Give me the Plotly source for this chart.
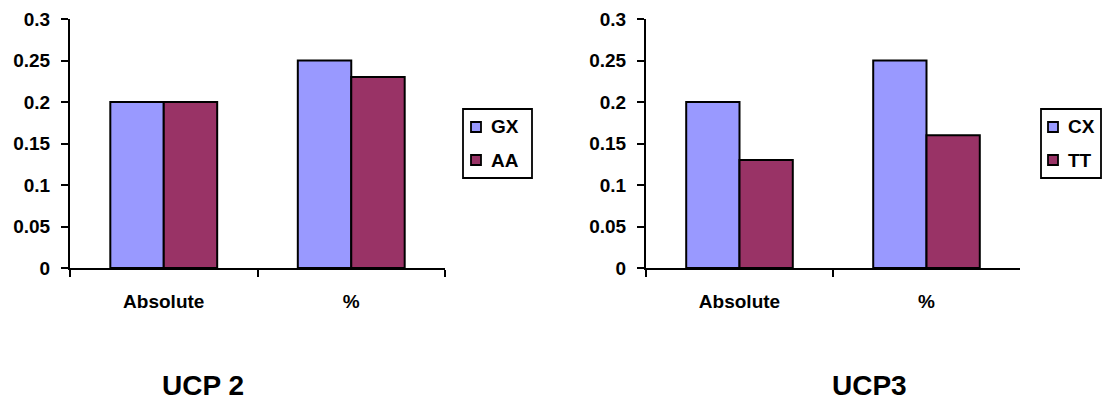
import plotly.graph_objects as go

categories = ["Absolute", "%"]
gx_values = [0.2, 0.25]
aa_values = [0.2, 0.23]
cx_values = [0.2, 0.25]
tt_values = [0.13, 0.16]
left_names = ["GX", "AA"]
right_names = ["CX", "TT"]
y_ticks = [0, 0.05, 0.1, 0.15, 0.2, 0.25, 0.3]
y_tick_labels = ["0", "0.05", "0.1", "0.15", "0.2", "0.25", "0.3"]
titles = ["UCP 2", "UCP3"]

C1 = "#9999FF"
C2 = "#993366"
FONT = "Arial, Liberation Sans, sans-serif"
W, H = 1104, 404


def px(v):
    return v / W


def py(v):
    return (H - v) / H


fig = go.Figure()
line = dict(color="black", width=2)
fig.add_trace(go.Bar(x=categories, y=gx_values, name=left_names[0], marker=dict(color=C1, line=line),
                     xaxis="x", yaxis="y"))
fig.add_trace(go.Bar(x=categories, y=aa_values, name=left_names[1], marker=dict(color=C2, line=line),
                     xaxis="x", yaxis="y"))
fig.add_trace(go.Bar(x=categories, y=cx_values, name=right_names[0], marker=dict(color=C1, line=line),
                     xaxis="x2", yaxis="y2"))
fig.add_trace(go.Bar(x=categories, y=tt_values, name=right_names[1], marker=dict(color=C2, line=line),
                     xaxis="x2", yaxis="y2"))

y_dom = [py(268), py(19)]
tick_font = dict(family=FONT, size=19, color="black", weight="bold")
legend_font = dict(family=FONT, size=19, color="black", weight="bold")

xcommon = dict(type="category", showline=True, linecolor="black", linewidth=2,
               ticks="outside", ticklen=7, tickwidth=2, tickcolor="black",
               tickson="boundaries", showgrid=False, zeroline=False, automargin=False,
               tickfont=tick_font, ticklabelstandoff=15, fixedrange=True)
ycommon = dict(range=[0, 0.3], showline=True, linecolor="black", linewidth=2,
               ticks="outside", ticklen=7, tickwidth=2, tickcolor="black",
               tickvals=y_ticks, ticktext=y_tick_labels, showgrid=False, zeroline=False,
               automargin=False, tickfont=tick_font, ticklabelstandoff=7,
               domain=y_dom, fixedrange=True)

shapes = []
annotations = []


def add_legend(x0, x1, y0, y1, names, sym_x):
    shapes.append(dict(type="rect", xref="paper", yref="paper",
                       x0=px(x0), x1=px(x1), y0=py(y1), y1=py(y0),
                       line=dict(color="black", width=1.8), fillcolor="white", layer="above"))
    rows = [(122, 132), (155, 165)]
    for (ya, yb), name, col in zip(rows, names, [C1, C2]):
        shapes.append(dict(type="rect", xref="paper", yref="paper",
                           x0=px(sym_x), x1=px(sym_x + 10), y0=py(yb), y1=py(ya),
                           line=dict(color="black", width=1.8), fillcolor=col, layer="above"))
        annotations.append(dict(text=name, x=px(sym_x + 18), y=py((ya + yb) / 2),
                                xref="paper", yref="paper", xanchor="left", yanchor="middle",
                                showarrow=False, font=legend_font))


add_legend(463, 532, 109, 178, left_names, 471)
add_legend(1041, 1101, 109, 178, right_names, 1048)

title_font = dict(family=FONT, size=28, color="black", weight="bold")
annotations.append(dict(text=titles[0], x=px(203), y=py(385), xref="paper", yref="paper",
                        xanchor="center", yanchor="middle", showarrow=False, font=title_font))
annotations.append(dict(text=titles[1], x=px(870), y=py(385), xref="paper", yref="paper",
                        xanchor="center", yanchor="middle", showarrow=False, font=title_font))

fig.update_layout(
    width=W, height=H,
    margin=dict(l=0, r=0, t=0, b=0, autoexpand=False),
    paper_bgcolor="white", plot_bgcolor="white",
    showlegend=False,
    barmode="group", bargap=0.43, bargroupgap=0,
    xaxis=dict(xcommon, domain=[px(70), px(445)], anchor="y"),
    yaxis=dict(ycommon, anchor="x"),
    xaxis2=dict(xcommon, domain=[px(646), px(1020)], anchor="y2"),
    yaxis2=dict(ycommon, anchor="x2"),
    shapes=shapes,
    annotations=annotations,
)

fig.write_html("out.html", config=dict(displayModeBar=False),
               post_script="document.body.style.margin='0';document.body.style.overflow='hidden';")
